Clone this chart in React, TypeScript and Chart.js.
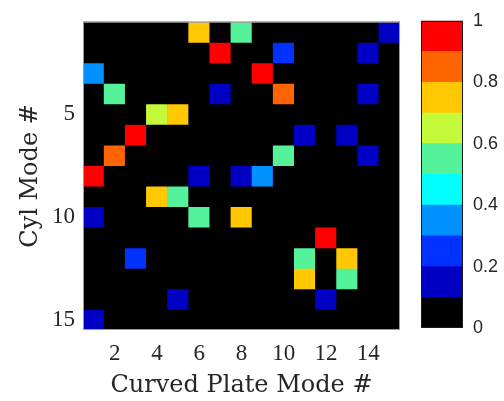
import { useEffect, useRef } from 'react';
import { Chart, registerables } from 'chart.js';

Chart.register(...registerables);

// Mode indices on each axis
const plateModes = [1, 2, 3, 4, 5, 6, 7, 8, 9, 10, 11, 12, 13, 14, 15];
const cylModes = [1, 2, 3, 4, 5, 6, 7, 8, 9, 10, 11, 12, 13, 14, 15];

// Tick values shown on the axes
const xTickValues = [2, 4, 6, 8, 10, 12, 14];
const yTickValues = [5, 10, 15];

// Coupling between cylinder modes (rows) and curved plate modes (columns)
const coupling: number[][] = [
  [0, 0, 0, 0, 0, 0.76, 0, 0.56, 0, 0, 0, 0, 0, 0, 0.16],
  [0, 0, 0, 0, 0, 0, 0.96, 0, 0, 0.26, 0, 0, 0, 0.15, 0],
  [0.36, 0, 0, 0, 0, 0, 0, 0, 0.95, 0, 0, 0, 0, 0, 0],
  [0, 0.55, 0, 0, 0, 0, 0.16, 0, 0, 0.85, 0, 0, 0, 0.15, 0],
  [0, 0, 0, 0.66, 0.74, 0, 0, 0, 0, 0, 0, 0, 0, 0, 0],
  [0, 0, 0.95, 0, 0, 0, 0, 0, 0, 0, 0.15, 0, 0.16, 0, 0],
  [0, 0.84, 0, 0, 0, 0, 0, 0, 0, 0.56, 0, 0, 0, 0.14, 0],
  [0.96, 0, 0, 0, 0, 0.15, 0, 0.16, 0.37, 0, 0, 0, 0, 0, 0],
  [0, 0, 0, 0.75, 0.55, 0, 0, 0, 0, 0, 0, 0, 0, 0, 0],
  [0.15, 0, 0, 0, 0, 0.54, 0, 0.76, 0, 0, 0, 0, 0, 0, 0],
  [0, 0, 0, 0, 0, 0, 0, 0, 0, 0, 0, 0.97, 0, 0, 0],
  [0, 0, 0.25, 0, 0, 0, 0, 0, 0, 0, 0.55, 0, 0.74, 0, 0],
  [0, 0, 0, 0, 0, 0, 0, 0, 0, 0, 0.75, 0, 0.56, 0, 0],
  [0, 0, 0, 0, 0.15, 0, 0, 0, 0, 0, 0, 0.16, 0, 0, 0],
  [0.14, 0, 0, 0, 0, 0, 0, 0, 0, 0, 0, 0, 0, 0, 0],
];

// Ten-level colour map (black for near zero, then jet-like)
const levelColors = [
  '#000000',
  '#0000c4',
  '#0032ff',
  '#0090ff',
  '#00ffff',
  '#55f29c',
  '#c4fa3a',
  '#ffc800',
  '#ff6400',
  '#ff0000',
];
const levelEdges = [0, 0.1, 0.2, 0.3, 0.4, 0.5, 0.6, 0.7, 0.8, 0.9, 1];

const colorbarTickValues = [0, 0.2, 0.4, 0.6, 0.8, 1];
const colorbarTickLabels = ['0', '0.2', '0.4', '0.6', '0.8', '1'];

const TEXT = '#262626';

function colorFor(v: number): string {
  const n = levelColors.length;
  const idx = Math.min(n - 1, Math.max(0, Math.floor(v * n)));
  return levelColors[idx];
}

const plotFrame = {
  id: 'plotFrame',
  beforeDatasetsDraw(chart: any) {
    const { ctx, chartArea } = chart;
    ctx.save();
    ctx.fillStyle = '#000000';
    ctx.fillRect(chartArea.left, chartArea.top, chartArea.width, chartArea.height);
    ctx.restore();
  },
  afterDatasetsDraw(chart: any) {
    const { ctx, chartArea } = chart;
    ctx.save();
    ctx.strokeStyle = '#9a9a9a';
    ctx.lineWidth = 1;
    ctx.strokeRect(chartArea.left + 0.5, chartArea.top + 0.5, chartArea.width - 1, chartArea.height - 1);
    ctx.restore();
  },
};

const barFrame = {
  id: 'barFrame',
  afterDatasetsDraw(chart: any) {
    const { ctx, chartArea } = chart;
    ctx.save();
    ctx.strokeStyle = '#1a1a1a';
    ctx.lineWidth = 1;
    ctx.strokeRect(chartArea.left + 0.5, chartArea.top + 0.5, chartArea.width - 1, chartArea.height - 1);
    ctx.restore();
  },
};

export default function App() {
  const mainRef = useRef<HTMLCanvasElement>(null);
  const barRef = useRef<HTMLCanvasElement>(null);

  useEffect(() => {
    const heat = new Chart(mainRef.current!, {
      type: 'bar',
      data: {
        labels: plateModes.map(String),
        datasets: cylModes.map((row, i) => ({
          label: `Cyl ${row}`,
          data: plateModes.map(() => [row - 0.5, row + 0.5]) as any,
          backgroundColor: coupling[i].map(colorFor),
          borderWidth: 0,
          grouped: false,
          barPercentage: 1,
          categoryPercentage: 1,
        })),
      },
      options: {
        animation: false,
        responsive: false,
        events: [],
        layout: { padding: { left: 8, top: 14, right: 10, bottom: 0 } },
        plugins: { legend: { display: false }, tooltip: { enabled: false } },
        scales: {
          x: {
            type: 'category',
            grid: { display: false, drawTicks: false },
            border: { display: false },
            afterFit: (scale: any) => {
              scale.height = 71;
            },
            ticks: {
              autoSkip: false,
              maxRotation: 0,
              minRotation: 0,
              padding: 10,
              color: TEXT,
              font: { family: 'Liberation Serif', size: 23 },
              callback: (_v: any, index: number) =>
                xTickValues.includes(plateModes[index]) ? String(plateModes[index]) : '',
            },
            title: {
              display: true,
              text: 'Curved Plate Mode #',
              color: TEXT,
              font: { family: 'DejaVu Serif', size: 24, weight: 'normal' },
              padding: { top: 0, bottom: 1 },
            },
          },
          y: {
            type: 'linear',
            reverse: true,
            min: 0.5,
            max: 15.5,
            grid: { display: false, drawTicks: false },
            border: { display: false },
            afterBuildTicks: (scale: any) => {
              scale.ticks = yTickValues.map((v) => ({ value: v }));
            },
            afterFit: (scale: any) => {
              scale.width = 75;
            },
            ticks: {
              padding: 8,
              color: TEXT,
              font: { family: 'Liberation Serif', size: 23 },
              callback: (v: any) => String(v),
            },
            title: {
              display: true,
              text: 'Cyl Mode #',
              color: TEXT,
              font: { family: 'DejaVu Serif', size: 24, weight: 'normal' },
              padding: { top: 8, bottom: 0 },
            },
          },
        },
      } as any,
      plugins: [plotFrame],
    });

    const colorbar = new Chart(barRef.current!, {
      type: 'bar',
      data: {
        labels: ['level'],
        datasets: levelColors.map((c, i) => ({
          label: `band ${i}`,
          data: [[levelEdges[i], levelEdges[i + 1]]] as any,
          backgroundColor: c,
          borderWidth: 0,
          grouped: false,
          barPercentage: 1,
          categoryPercentage: 1,
        })),
      },
      options: {
        animation: false,
        responsive: false,
        events: [],
        layout: { padding: { left: 11, top: 15, right: 0, bottom: 73 } },
        plugins: { legend: { display: false }, tooltip: { enabled: false } },
        scales: {
          x: { display: false },
          y: {
            position: 'right',
            min: 0,
            max: 1,
            grid: { display: false, drawTicks: false },
            border: { display: false },
            afterBuildTicks: (scale: any) => {
              scale.ticks = colorbarTickValues.map((v) => ({ value: v }));
            },
            afterFit: (scale: any) => {
              scale.width = 41;
            },
            ticks: {
              padding: 10,
              color: TEXT,
              font: { family: 'Liberation Sans', size: 18 },
              callback: (_v: any, index: number) => colorbarTickLabels[index],
            },
          },
        },
      } as any,
      plugins: [barFrame],
    });

    return () => {
      heat.destroy();
      colorbar.destroy();
    };
  }, []);

  return (
    <div
      style={{
        position: 'fixed',
        left: 0,
        top: 0,
        width: 504,
        height: 401,
        background: '#ffffff',
      }}
    >
      <canvas
        ref={mainRef}
        width={410}
        height={401}
        style={{ position: 'absolute', left: 0, top: 0, width: 410, height: 401 }}
      />
      <canvas
        ref={barRef}
        width={94}
        height={401}
        style={{ position: 'absolute', left: 410, top: 0, width: 94, height: 401 }}
      />
    </div>
  );
}
